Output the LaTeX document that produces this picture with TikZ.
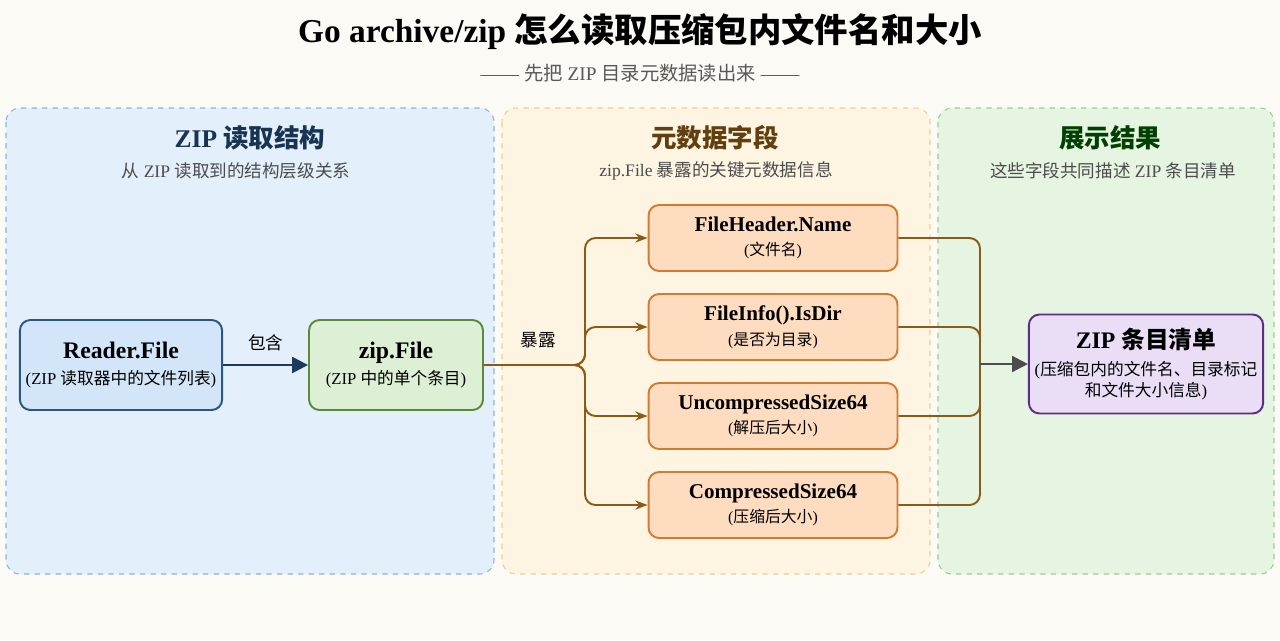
\documentclass[tikz,border=0pt]{standalone}
\usepackage{fontspec}
\setmainfont{Liberation Serif}
\newfontfamily\cjk{Noto Sans CJK SC}
\newcommand\zh[1]{{\cjk #1}}
\usetikzlibrary{arrows.meta}
\definecolor{bgc}{HTML}{FBFAF4}
\definecolor{bluefill}{HTML}{E3EFFB}
\definecolor{blueline}{HTML}{8CB4DC}
\definecolor{yelfill}{HTML}{FDF5E2}
\definecolor{yelline}{HTML}{F0CF8C}
\definecolor{grnfill}{HTML}{E6F4E2}
\definecolor{grnline}{HTML}{9CCB9A}
\definecolor{navy}{HTML}{1B3A5C}
\definecolor{brownc}{HTML}{8B5A16}
\definecolor{readfill}{HTML}{D3E5F8}
\definecolor{readline}{HTML}{2A5680}
\definecolor{zipfill}{HTML}{DDEFD5}
\definecolor{zipline}{HTML}{5B8A3A}
\definecolor{fieldfill}{HTML}{FDDCC0}
\definecolor{fieldline}{HTML}{D27A30}
\definecolor{outfill}{HTML}{E9DEF5}
\definecolor{outline}{HTML}{5A2D8A}
\tikzset{
  panel/.style={draw, dashed, rounded corners=8pt, line width=0.6pt},
  box/.style={draw, rounded corners=6pt, line width=1.1pt, align=center, minimum height=1.8cm},
  readerbox/.style={box, fill=readfill, draw=readline, minimum width=4.04cm},
  zipbox/.style={box, fill=zipfill, draw=zipline, minimum width=3.48cm},
  fieldbox/.style={box, fill=fieldfill, draw=fieldline, minimum width=4.98cm, minimum height=1.32cm},
  outbox/.style={box, fill=outfill, draw=outline, minimum width=4.54cm, minimum height=1.98cm},
  head/.style={font=\bfseries\fontsize{14.5}{16}\selectfont, text=navy!90!black},
  sub/.style={font=\fontsize{10}{12}\selectfont, text=black!70},
  link/.style={draw=brownc, line width=1.1pt, rounded corners=6pt},
}
\begin{document}
\begin{tikzpicture}[x=0.02cm, y=-0.02cm]
\fill[bgc] (0,0) rectangle (1280,640);
\node[font=\bfseries\fontsize{19}{22}\selectfont] (title) at (640,32) {Go archive/zip \zh{怎么读取压缩包内文件名和大小}};
\node[font=\fontsize{11}{13}\selectfont, text=black!65] (subtitle) at (640,73) {—— \zh{先把} ZIP \zh{目录元数据读出来} ——};
% panels
\path[panel, fill=bluefill, draw=blueline] (6,108) rectangle (494,574);
\path[panel, fill=yelfill, draw=yelline] (502,108) rectangle (930,574);
\path[panel, fill=grnfill, draw=grnline] (938,108) rectangle (1274,574);
\node[head] (h1) at (250,138) {ZIP \zh{读取结构}};
\node[sub] (s1) at (236,171) {\zh{从} ZIP \zh{读取到的结构层级关系}};
\node[head, text=brownc!70!black] (h2) at (715,138) {\zh{元数据字段}};
\node[sub] (s2) at (716,171) {zip.File \zh{暴露的关键元数据信息}};
\node[head, text=green!25!black] (h3) at (1110,138) {\zh{展示结果}};
\node[sub] (s3) at (1113,171) {\zh{这些字段共同描述} ZIP \zh{条目清单}};
% nodes
\node[readerbox] (reader) at (121,365) {{\bfseries\fontsize{13.5}{16}\selectfont Reader.File}\\[3pt]{\fontsize{9.5}{11}\selectfont (ZIP \zh{读取器中的文件列表})}};
\node[zipbox] (zipf) at (396,365) {{\bfseries\fontsize{13.5}{16}\selectfont zip.File}\\[3pt]{\fontsize{9.5}{11}\selectfont (ZIP \zh{中的单个条目})}};
\node[fieldbox] (name) at (773,238) {{\bfseries\fontsize{12}{14}\selectfont FileHeader.Name}\\[2pt]{\fontsize{9}{11}\selectfont (\zh{文件名})}};
\node[fieldbox] (isdir) at (773,327) {{\bfseries\fontsize{12}{14}\selectfont FileInfo().IsDir}\\[2pt]{\fontsize{9}{11}\selectfont (\zh{是否为目录})}};
\node[fieldbox] (usize) at (773,416) {{\bfseries\fontsize{12}{14}\selectfont UncompressedSize64}\\[2pt]{\fontsize{9}{11}\selectfont (\zh{解压后大小})}};
\node[fieldbox] (csize) at (773,505) {{\bfseries\fontsize{12}{14}\selectfont CompressedSize64}\\[2pt]{\fontsize{9}{11}\selectfont (\zh{压缩后大小})}};
\node[outbox] (list) at (1146,364) {{\bfseries\fontsize{13.5}{16}\selectfont ZIP \zh{条目清单}}\\[3pt]{\fontsize{9.5}{12}\selectfont (\zh{压缩包内的文件名、目录标记}}\\{\fontsize{9.5}{12}\selectfont \zh{和文件大小信息})}};
\coordinate (split) at (585,365);
\coordinate (merge) at (980,364);
% connectors
\draw[navy, line width=1.4pt, -{Triangle[length=9pt,width=9pt]}] (reader) -- node[above=4pt, text=black, font=\fontsize{10}{12}\selectfont] (contains) {\zh{包含}} (zipf);
\node[font=\fontsize{10}{12}\selectfont] (expose) at (538,340) {\zh{暴露}};
\foreach \f in {name,isdir,usize,csize}
  \draw[link, -{Stealth[length=7pt]}] (zipf.east) -- (split) |- (\f.west);
\foreach \f in {name,isdir,usize,csize}
  \draw[link] (\f.east) -| (merge);
\draw[black!70, line width=1.4pt, -{Triangle[length=9pt,width=9pt]}] (merge) -- (list.west);
\end{tikzpicture}
\end{document}
